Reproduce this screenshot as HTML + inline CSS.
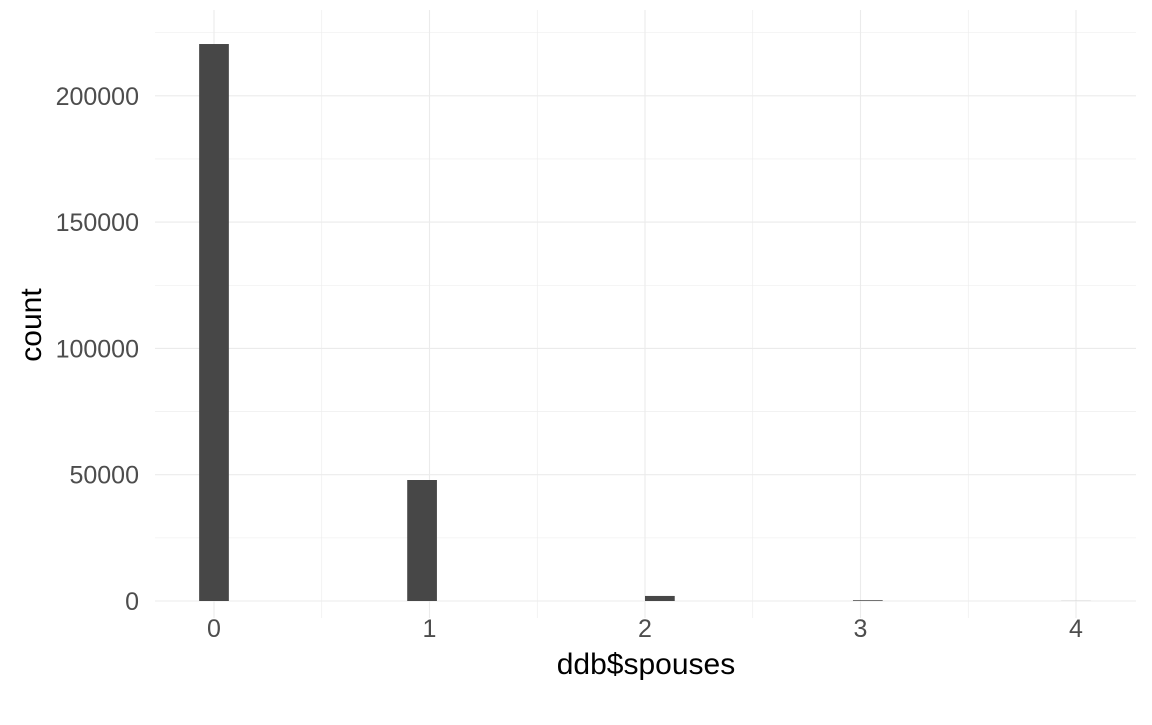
<!DOCTYPE html>
<html><head><meta charset="utf-8"><style>
html,body{margin:0;padding:0;background:#fff;}
svg text{font-family:"Liberation Sans",Arial,sans-serif;}
</style></head><body>
<svg id="chart" width="1152" height="720" xmlns="http://www.w3.org/2000/svg">
<g id="grid"></g>
<g id="bars"></g>
<g id="axes"></g>
<text x="646" y="674" font-size="30" text-anchor="middle" fill="#000">ddb$spouses</text>
<text transform="translate(41,325) rotate(-90)" font-size="30" text-anchor="middle" fill="#000">count</text>
</svg>
<script>
const binCenters = [0, 0.9655, 2.069, 3.034, 4];
const counts = [220500, 47900, 2000, 300, 30];
const xTicks = [0, 1, 2, 3, 4];
const yTicks = [0, 50000, 100000, 150000, 200000];
const binWidth = 4/29;

const X0 = 214, XU = 215.5, Y0 = 601, YU = 126.3/50000;
const px = v => X0 + v*XU;
const py = v => Y0 - v*YU;
const NS = 'http://www.w3.org/2000/svg';
function mk(tag, attrs, parent){const e=document.createElementNS(NS,tag);for(const k in attrs)e.setAttribute(k,attrs[k]);parent.appendChild(e);return e;}
const grid=document.getElementById('grid'), bars=document.getElementById('bars'), axes=document.getElementById('axes');
const L=155,R=1136,T=10,B=618;
for(let v=-0.5; v<=4.5; v+=0.5){
  const x=px(v); if(x<L||x>R) continue;
  const major = Math.abs(v-Math.round(v))<1e-9;
  const l=mk('line',{x1:x,x2:x,y1:T,y2:B,stroke:'#ebebeb','stroke-width':major?1.1:0.55},grid);
  
  
}
for(let v=-25000; v<=250000; v+=25000){
  const y=py(v); if(y<T||y>B) continue;
  const major = v%50000===0;
  const l=mk('line',{x1:L,x2:R,y1:y,y2:y,stroke:'#ebebeb','stroke-width':major?1.1:0.55},grid);
  
  
}
binCenters.forEach((c,i)=>{
  const x1=px(c-binWidth/2), x2=px(c+binWidth/2);
  const r=mk('rect',{x:x1,y:py(counts[i]),width:x2-x1,height:Math.max(0,Y0-py(counts[i])),fill:'#474747'},bars);
  
  
});
xTicks.forEach(v=>{
  const t=mk('text',{x:px(v),y:637,'font-size':25,'text-anchor':'middle',fill:'#4d4d4d'},axes);
  t.textContent=v;
  
  
});
yTicks.forEach(v=>{
  const t=mk('text',{x:139,y:py(v)+9,'font-size':25,'text-anchor':'end',fill:'#4d4d4d'},axes);
  t.textContent=v;
  
  
});
</script>
</body></html>
